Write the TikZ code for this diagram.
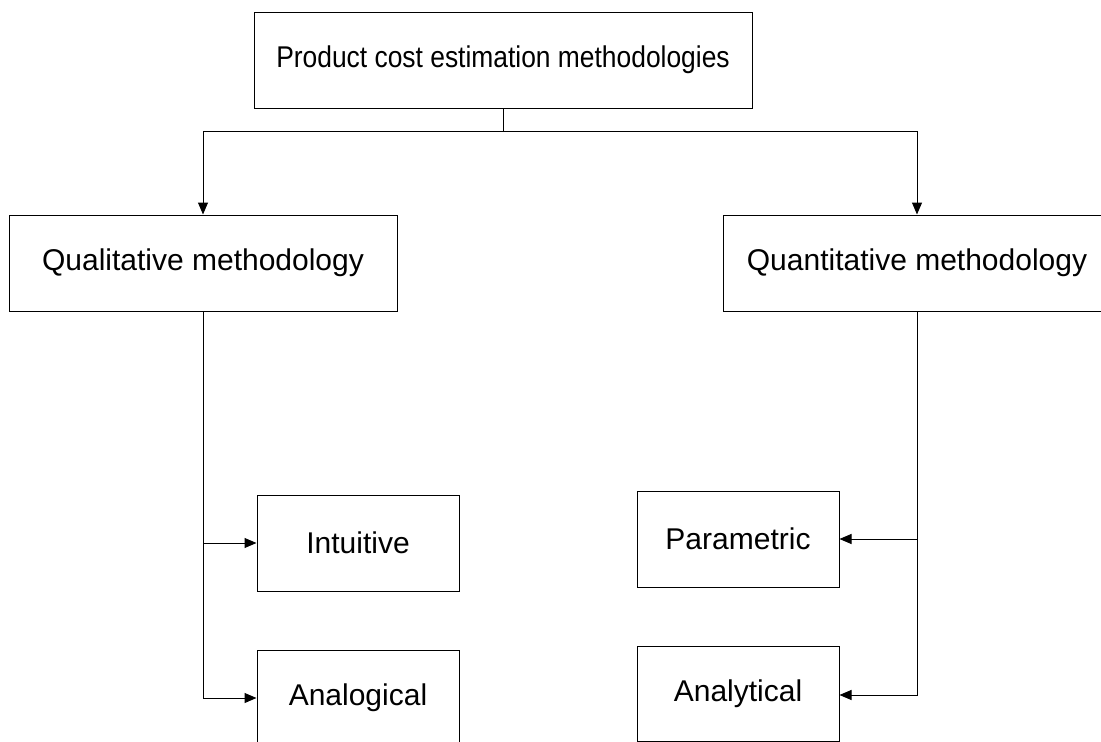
\documentclass[tikz,border=0pt]{standalone}
\usepackage{fontspec}
\usepackage{graphicx}
\setmainfont{Liberation Sans}
\usetikzlibrary{arrows.meta}

\begin{document}
\begin{tikzpicture}[x=1pt,y=-1pt,
  box/.style={draw=black, line width=1pt, fill=white, inner sep=0pt,
    font=\fontsize{30}{36}\selectfont, text=black},
  leafbox/.style={box, minimum width=202pt, minimum height=96pt},
  wire/.style={draw=black, line width=1pt},
  arr/.style={wire, -{Triangle[length=12pt,width=10pt]}}]

  \useasboundingbox (0,0) rectangle (1101,742);
  \clip (0,0) rectangle (1101,742);

  % root
  \node[box, minimum width=498pt, minimum height=96pt] (root) at (503,60)
    {\scalebox{0.88}[1]{Product cost estimation methodologies}};

  % two families
  \node[box, minimum width=388pt, minimum height=96pt] (qual) at (203,263)
    {Qualitative methodology};
  \node[box, minimum width=388pt, minimum height=96pt] (quant) at (917,263)
    {Quantitative methodology};

  % leaves
  \node[leafbox] (intu)   at (358,543)   {Intuitive};
  \node[leafbox] (analog) at (358,698)   {Analogical};
  \node[leafbox] (param)  at (738,539)   {Parametric};
  \node[leafbox, minimum height=95pt] (analyt) at (738,693.5) {Analytical};

  % connectors
  \coordinate (split) at (503,131);
  \draw[wire] (root.south) -- (split);
  \draw[arr] (split) -| (qual.north);
  \draw[arr] (split) -| (quant.north);

  \draw[arr] (qual.south) |- (intu.west);
  \draw[arr] (qual.south) |- (analog.west);

  \draw[arr] (quant.south) |- (param.east);
  \draw[arr] (quant.south) |- ([yshift=-1.5pt]analyt.east);
\end{tikzpicture}
\end{document}
